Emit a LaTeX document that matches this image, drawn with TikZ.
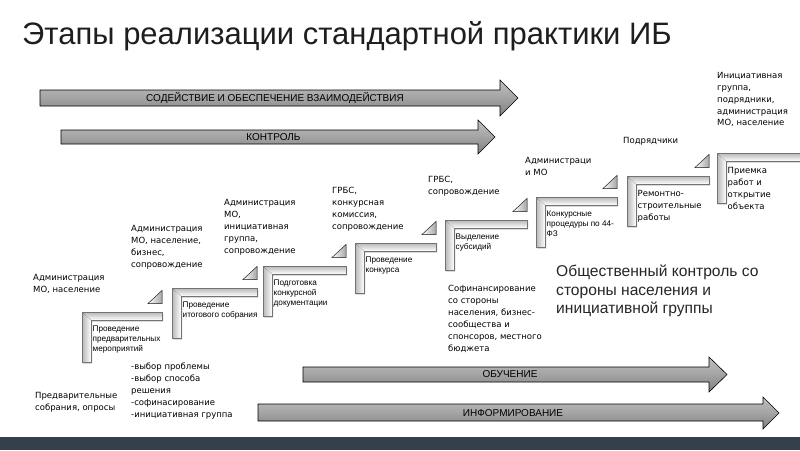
\documentclass[tikz,border=0pt]{standalone}
\usepackage{fontspec}
\setmainfont{Liberation Sans}
\newfontfamily\lblfont{DejaVu Sans}
\usetikzlibrary{calc}
\definecolor{barcol}{RGB}{52,64,76}
\definecolor{titlecol}{RGB}{30,30,30}
\tikzset{
  bigarrow/.style={draw=black, line width=0.6pt, top color=black!25, bottom color=black!50, middle color=black!36},
  arrowtext/.style={font=\fontsize{10}{11}\selectfont, inner sep=0pt},
  lbl/.style={font=\lblfont\fontsize{8.5}{11.9}\selectfont, align=left, anchor=north west, inner sep=0pt},
  smalltext/.style={font=\fontsize{8.2}{10}\selectfont, align=left, anchor=north west, inner sep=0pt},
  stepshadow/.style={fill=black!40},
  stepline/.style={draw=black!55, line width=0.4pt},
  tri/.style={draw=black!80, line width=0.5pt, left color=white, right color=black!35},
}
\newcommand\stairstep[6]{%
  \begin{scope}[shift={(#1,#2)}]
    \fill[stepshadow] (1.2,1.4) -- (#3+1.2,1.4) -- (#3+1.2,9.4) -- (10.2,9.4) -- (10.2,51.4) -- (1.2,51.4) -- cycle;
    \fill[left color=black!28, right color=white] (0,0) -- (9,8) -- (9,50) -- (0,50) -- cycle;
    \fill[top color=black!28, bottom color=white] (0,0) -- (#3,0) -- (#3,8) -- (9,8) -- cycle;
    \draw[stepline] (0,0) -- (#3,0) -- (#3,8) -- (9,8) -- (9,50) -- (0,50) -- cycle;
    \node[#5] (#4) at (10.5,14) {#6};
  \end{scope}}
\newcommand\steptri[3]{%
  \filldraw[tri] (#1+#3,#2-8.5) -- (#1+#3,#2-21.5) -- (#1+#3-14,#2-8.5) -- cycle;}
\begin{document}
\begin{tikzpicture}[x=1pt,y=-1pt]
\useasboundingbox (0,0) rectangle (800,450);
\fill[white] (0,0) rectangle (800,450);
% title
\node[anchor=base west, inner sep=0pt, font=\fontsize{31}{33}\selectfont, text=titlecol] (title) at (22,44) {Этапы реализации стандартной практики ИБ};
% big arrows
\draw[bigarrow] (40,90) -- (500,90) -- (500,80) -- (518,98) -- (500,116) -- (500,106) -- (40,106) -- cycle;
\node[arrowtext] (a1) at (275,98) {СОДЕЙСТВИЕ И ОБЕСПЕЧЕНИЕ ВЗАИМОДЕЙСТВИЯ};
\draw[bigarrow] (61,130) -- (478,130) -- (478,120) -- (495,137) -- (478,154) -- (478,144) -- (61,144) -- cycle;
\node[arrowtext] (a2) at (273.5,137) {КОНТРОЛЬ};
\draw[bigarrow] (303,367) -- (709,367) -- (709,357) -- (727,374.5) -- (709,392) -- (709,382) -- (303,382) -- cycle;
\node[arrowtext] (a3) at (510,374.5) {ОБУЧЕНИЕ};
\draw[bigarrow] (258,404) -- (763,404) -- (763,397) -- (779,413) -- (763,429) -- (763,421) -- (258,421) -- cycle;
\node[arrowtext] (a4) at (513,413) {ИНФОРМИРОВАНИЕ};
% steps
\stairstep{82}{312}{80}{s1}{smalltext}{Проведение\\предварительных\\мероприятий}
\steptri{82}{312}{80}
\stairstep{172}{288}{85}{s2}{smalltext}{Проведение\\итогового собрания}
\steptri{172}{288}{85}
\stairstep{263}{266}{83}{s3}{smalltext}{Подготовка\\конкурсной\\документации}
\steptri{263}{266}{83}
\stairstep{355}{243}{81}{s4}{smalltext}{Проведение\\конкурса}
\steptri{355}{243}{81}
\stairstep{445}{220}{82}{s5}{smalltext}{Выделение\\субсидий}
\steptri{445}{220}{82}
\stairstep{536}{197}{81}{s6}{smalltext}{Конкурсные\\процедуры по 44-\\ФЗ}
\steptri{536}{197}{81}
\stairstep{627}{176}{82}{s7}{lbl}{Ремонтно-\\строительные\\работы}
\steptri{627}{176}{82}
\stairstep{717}{153}{85}{s8}{lbl}{Приемка\\работ и\\открытие\\объекта}
% labels
\node[lbl] (l1) at (33,274) {Администрация\\МО, население};
\node[lbl] (l2) at (131,225) {Администрация\\МО, население,\\бизнес,\\сопровождение};
\node[lbl] (l3) at (224,199) {Администрация\\МО,\\инициативная\\группа,\\сопровождение};
\node[lbl] (l4) at (332,187) {ГРБС,\\конкурсная\\комиссия,\\сопровождение};
\node[lbl] (l5) at (428,176) {ГРБС,\\сопровождение};
\node[lbl] (l6) at (525,157) {Администраци\\и МО};
\node[lbl] (l7) at (623,137) {Подрядчики};
\node[lbl] (l8) at (717,72) {Инициативная\\группа,\\подрядники,\\администрация\\МО, население};
\node[lbl] (cofin) at (448,285) {Софинансирование\\со стороны\\населения, бизнес-\\сообщества и\\спонсоров, местного\\бюджета};
\node[lbl] (prel) at (35,392) {Предварительные\\собрания, опросы};
\node[lbl] (list) at (131,363) {-выбор проблемы\\-выбор способа\\решения\\-софинасирование\\-инициативная группа};
\node[anchor=north west, inner sep=0pt, align=left, font=\fontsize{15.6}{18.3}\selectfont, text=black!85] (obs) at (556,265) {Общественный контроль со\\стороны населения и\\инициативной группы};
% bottom bar
\fill[barcol] (0,437) rectangle (800,450);
\end{tikzpicture}
\end{document}
